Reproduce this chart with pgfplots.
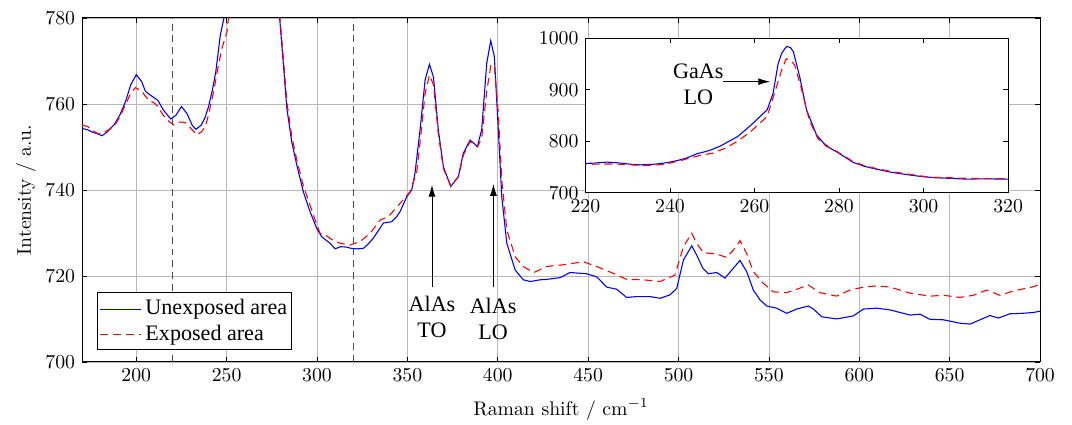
\documentclass[border=0pt]{standalone}
\usepackage{fontspec}
\usepackage{pgfplots}
\usepackage{pgfplotstable}
\pgfplotsset{compat=1.18}
\usetikzlibrary{arrows.meta,calc}
\newfontfamily\tnr{Liberation Serif}
\newcommand{\lgf}{\tnr\fontsize{11.2}{13}\selectfont}
\definecolor{mblue}{rgb}{0,0,1}

\pgfplotstableread{
x y
170 754.3
173 754.0
176 753.4
179 753.0
181 752.6
184 753.5
188 755.3
191 757.5
194 760.5
197 764.5
200 766.8
203 765.2
205 763.0
207 762.3
210 761.4
212 760.8
215 758.6
219 756.5
222 757.4
225 759.4
228 757.8
231 755.0
233 754.1
236 755.1
238 756.8
240 759.4
242 763
244 767.5
246.5 776
248.5 780
250 784
252 791
256 809
259 830
263 861
264.4 893
265.6 951
266.5 972
267.6 984
268.5 982
269.2 974
270.7 925
272.3 861
274.7 812
276.5 795
278 786
279.5 779.1
281.4 769.1
283.3 759
286 751.2
288.8 745.8
292.4 739.6
296.1 735
299.8 731.1
302.6 729.1
307.2 727.6
310 726.3
313 726.8
316.4 726.7
319 726.4
322 726.3
325.6 726.4
328 727.3
331.2 728.8
336.7 732.3
341.3 732.6
344.1 733.8
346 735
349.6 738.4
352.4 740
354.2 743.9
357 754
359.8 765.6
362.2 769.2
364.4 766.3
367.1 754
369.9 745.4
374 740.8
378.2 743.1
380.9 748.5
384.7 751.6
388.7 750.1
391.1 754
393.9 769.5
396.1 774.7
398.1 771
400.3 754
402.2 738.4
405 727.6
409.6 721.4
414.1 719.1
418 718.7
423.4 719.1
427.1 719.2
434.5 719.6
440 720.8
449.2 720.5
454.7 719.8
460.3 717.4
465.8 716.9
471.3 715
476.9 715.2
484.2 715.2
489.8 714.8
495.3 715.6
499 717.1
502.7 723.7
507.3 727
510 724.9
513.4 721.8
516.5 720.5
521.1 720.8
525.7 719.5
530.3 721.8
534 723.6
537.7 721
541.4 716.7
545.1 714.4
548.8 713
554.3 712.5
559.8 711.3
565.4 712.3
571.8 713
574.6 712.3
579.2 710.5
587.5 710
596.7 710.7
602.3 712.3
609.7 712.5
617 712.1
628.1 710.9
633.6 711.1
639.1 709.9
646.5 709.8
655.7 709
661.3 708.8
666.8 709.8
672.3 710.8
677 710.2
683.4 711.2
690 711.3
696.3 711.5
700 711.8
}\unexposed

\pgfplotstableread{
x y
170 755
173 754.8
176 753.8
179 753
181 753.2
184 753.8
188 755
191 757
194 759.8
197 762.5
199.5 763.8
203.2 762.9
205 761.8
207 760.9
210 760.2
212 759.4
215 757.3
218 756
220.7 755.1
224 755.8
227.2 755.7
230.9 754
233.6 752.8
236 753.5
238.2 754.7
240 757.5
242.8 762.9
245 768
247.4 773
250.2 776.8
251 780
253 786
256 800
259 818
263 848
265 900
266.5 940
267.5 960
268.5 958
269.5 948
271 905
273 840
275 805
277 790
279.5 780
281.4 770.5
283.3 760.5
286 752.5
288.8 747
292.4 741
296.1 736.5
299.8 732
301.7 729.9
305.4 729.3
309 728.2
312.8 727.6
318.3 727.2
323.8 728
329.4 729.9
334.9 733
339.5 733.8
346 736.9
351.5 739.6
355.2 744.2
357.5 753
359.8 762.5
362.2 766.7
364.4 764.5
367.1 753
369.9 745
374 741
378.2 743
380.9 748
384.7 751.3
388.7 750
391.1 752
393.9 763
396.3 769.3
398.1 768.8
400.3 757.8
402.2 742.3
405 730.7
409.6 724.5
414 722.2
420 720.8
427.1 722.2
436.3 722.6
447.4 723.3
454.7 722.2
463.9 720.6
471.3 719.2
480.5 719.1
489.8 718.7
498 720.2
502.7 726.8
507.3 729.9
510 727.6
513.8 725.4
521.1 725.1
526.6 724.3
530.3 726
534 728.2
537.7 725.2
541.4 721
546.9 718.3
552.4 716.3
559.8 716.1
565.4 716.9
571.8 717.9
578.2 716.1
587.5 715.3
594.8 716.7
602.3 717.4
609.7 717.7
617 717.4
628.1 716
639.1 715.3
646.5 715.5
655.7 715
663.1 715.5
670.5 716.7
677.8 715.5
685.2 716.5
695.4 717.4
700 718
}\exposed

\begin{document}
\begin{tikzpicture}
\begin{axis}[
  name=main,
  scale only axis,
  width=485.7pt, height=174.4pt,
  xmin=170, xmax=700, ymin=700, ymax=780,
  xtick={200,250,...,700},
  ytick={700,720,...,780},
  tick align=inside,
  major tick length=2.5pt,
  tick style={black, line width=0.4pt},
  grid=major,
  major grid style={gray!55, line width=0.4pt},
  axis line style={black, line width=0.5pt},
  xlabel={Raman shift / cm$^{-1}$},
  xlabel style={yshift=-2pt},
  ylabel={Intensity / a.u.},
  ylabel style={yshift=-2pt},
]
\addplot[color=mblue, line width=0.55pt] table[x=x,y=y] {\unexposed};
\addplot[color=red, line width=0.55pt, dash pattern=on 4pt off 2.5pt] table[x=x,y=y] {\exposed};
\addplot[black!70, line width=0.5pt, dash pattern=on 3.5pt off 2.5pt] coordinates {(220,700) (220,780)};
\addplot[black!70, line width=0.5pt, dash pattern=on 3.5pt off 2.5pt] coordinates {(320,700) (320,780)};
\draw[-{Latex[length=6pt,width=3.5pt]}, line width=0.5pt] (axis cs:363.6,717.4) -- (axis cs:363.6,741.2);
\draw[-{Latex[length=6pt,width=3.5pt]}, line width=0.5pt] (axis cs:397.6,717.4) -- (axis cs:397.6,741.4);
\node[align=center, font=\lgf, inner sep=1pt] at (axis cs:363.6,710.5) {AlAs\\TO};
\node[align=center, font=\lgf, inner sep=1pt] at (axis cs:397.4,710) {AlAs\\LO};
% legend
\draw[black, line width=0.5pt, fill=white] (axis description cs:0.0157,0.0349) rectangle (axis description cs:0.219,0.2006);
\addplot[color=mblue, line width=0.6pt] coordinates {(180,712.24) (202.7,712.24)};
\addplot[color=red, line width=0.55pt, dash pattern=on 4pt off 2.5pt] coordinates {(180,706.28) (202.7,706.28)};
\node[anchor=west, font=\lgf, inner sep=0pt] at (axis description cs:0.0658,0.153) {Unexposed area};
\node[anchor=west, font=\lgf, inner sep=0pt] at (axis description cs:0.0658,0.0785) {Exposed area};
\end{axis}
\begin{axis}[
  at={($(main.south west)+(255.2pt,85.8pt)$)}, anchor=south west,
  scale only axis,
  width=214.3pt, height=78.3pt,
  xmin=220, xmax=320, ymin=700, ymax=1000,
  xtick={220,240,...,320},
  ytick={700,800,900,1000},
  /pgf/number format/1000 sep={},
  tick align=inside,
  major tick length=2.5pt,
  tick style={black, line width=0.4pt},
  axis line style={black, line width=0.5pt},
  axis background/.style={fill=white},
]
\addplot[color=mblue, line width=0.55pt] table[x=x,y=y] {\unexposed};
\addplot[color=red, line width=0.55pt, dash pattern=on 4pt off 2.5pt] table[x=x,y=y] {\exposed};
\draw[-{Latex[length=6pt,width=3.5pt]}, line width=0.5pt] (axis cs:252.6,915.7) -- (axis cs:263.7,915.7);
\node[align=center, font=\lgf, inner sep=1pt] at (axis cs:246.7,911) {GaAs\\LO};
\end{axis}
\pgfresetboundingbox
\path ($(main.south west)+(-41.6pt,-31.9pt)$) rectangle ($(main.north east)+(16.2pt,9.1pt)$);
\end{tikzpicture}
\end{document}
